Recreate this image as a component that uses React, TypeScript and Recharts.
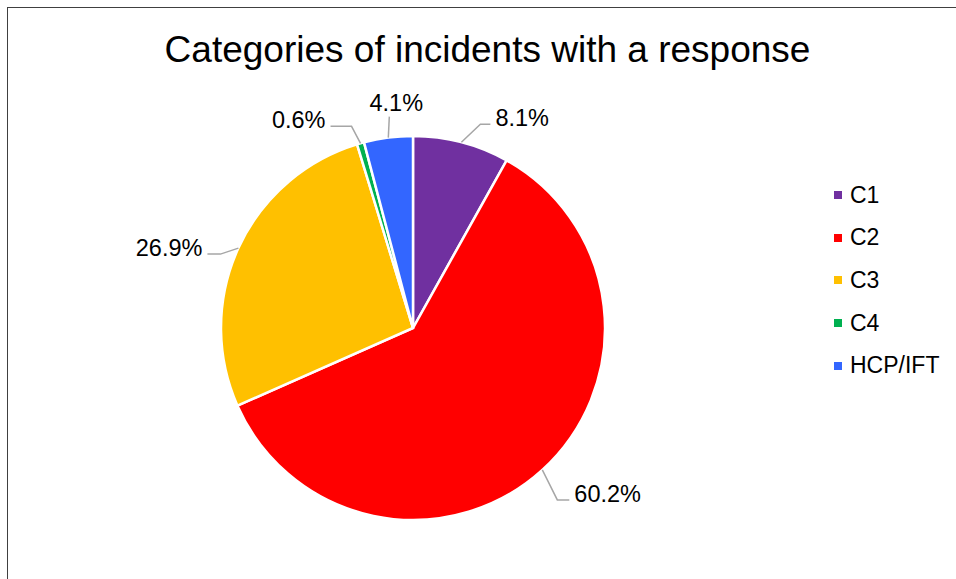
import { Cell, Legend, Pie, PieChart } from "recharts";

const categories = ["C1", "C2", "C3", "C4", "HCP/IFT"];
const shares = [8.1, 60.2, 26.9, 0.6, 4.1];
const colors = ["#7030A0", "#FF0000", "#FFC000", "#00B050", "#3366FF"];

// elbow offset from the slice edge, and the length of the flat part of the leader
const leaderLayout = [
  { dx: 19, dy: -18, run: 10 },
  { dx: 15, dy: 30, run: 12 },
  { dx: -18, dy: 6, run: 13 },
  { dx: -9, dy: -17, run: 21 },
  { dx: 1, dy: -21, run: 0 },
];

const data = categories.map((name, i) => ({ name, value: shares[i] }));

const FONT = '"Liberation Sans", Arial, sans-serif';
const RAD = Math.PI / 180;

function renderLabel(props: any) {
  const { cx, cy, midAngle, outerRadius, index, value } = props;
  const sx = cx + outerRadius * Math.cos(-midAngle * RAD);
  const sy = cy + outerRadius * Math.sin(-midAngle * RAD);
  const lay = leaderLayout[index];
  const ex = sx + lay.dx;
  const ey = sy + lay.dy;
  const text = `${Number(value).toFixed(1)}%`;

  if (lay.run === 0) {
    return (
      <g key={`lbl-${index}`}>
        <polyline points={`${sx},${sy} ${ex},${ey}`} stroke="#A6A6A6" strokeWidth={1.5} fill="none" />
        <text x={ex + 7} y={ey - 14} textAnchor="middle" dominantBaseline="central" fontSize={23.5} fontFamily={FONT} fill="#000">
          {text}
        </text>
      </g>
    );
  }

  const right = ex > cx;
  const hx = right ? ex + lay.run : ex - lay.run;
  return (
    <g key={`lbl-${index}`}>
      <polyline points={`${sx},${sy} ${ex},${ey} ${hx},${ey}`} stroke="#A6A6A6" strokeWidth={1.5} fill="none" />
      <text
        x={right ? hx + 5 : hx - 5}
        y={ey - 6}
        textAnchor={right ? "start" : "end"}
        dominantBaseline="central"
        fontSize={23.5}
        fontFamily={FONT}
        fill="#000"
      >
        {text}
      </text>
    </g>
  );
}

function renderLegend() {
  return (
    <div style={{ fontFamily: FONT, fontSize: 23, color: "#000" }}>
      {categories.map((name, i) => (
        <div key={name} style={{ display: "flex", alignItems: "center", height: 42.6 }}>
          <span style={{ width: 8, height: 8, background: colors[i], marginRight: 8, display: "inline-block" }} />
          <span>{name}</span>
        </div>
      ))}
    </div>
  );
}

export default function App() {
  return (
    <div
      style={{
        position: "absolute",
        left: 7,
        top: 7,
        width: 949,
        height: 572,
        boxSizing: "border-box",
        borderLeft: "1px solid #404040",
        borderTop: "1px solid #404040",
        background: "#fff",
      }}
    >
      <div
        style={{
          position: "absolute",
          left: 79.5,
          top: 23,
          width: 800,
          textAlign: "center",
          fontFamily: FONT,
          fontSize: 37,
          lineHeight: 1,
          color: "#000",
        }}
      >
        Categories of incidents with a response
      </div>
      <PieChart
        width={948}
        height={571}
        margin={{ top: 0, right: 0, bottom: 0, left: 0 }}
        style={{ position: "absolute", left: 0, top: 0 }}
      >
        <Pie
          data={data}
          dataKey="value"
          nameKey="name"
          cx={405}
          cy={320}
          outerRadius={192}
          startAngle={90}
          endAngle={-270}
          stroke="#fff"
          strokeWidth={2.5}
          labelLine={false}
          label={renderLabel}
          isAnimationActive={false}
        >
          {data.map((d, i) => (
            <Cell key={d.name} fill={colors[i]} />
          ))}
        </Pie>
        <Legend
          layout="vertical"
          align="right"
          verticalAlign="top"
          content={renderLegend}
          wrapperStyle={{ left: 826, right: "auto", top: 166, width: 120 }}
        />
      </PieChart>
    </div>
  );
}
